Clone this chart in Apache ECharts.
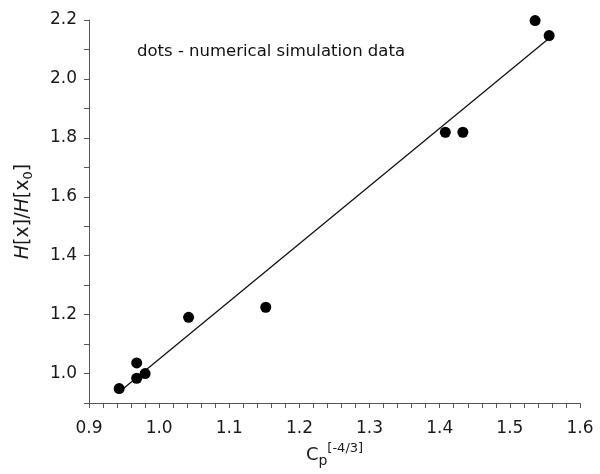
<!DOCTYPE html>
<html><head><meta charset="utf-8">
<script src="https://cdn.jsdelivr.net/npm/echarts@6/dist/echarts.min.js"></script>
<style>html,body{margin:0;padding:0;background:#fff}#c{width:600px;height:474px}</style>
</head><body><div id="c"></div>
<script>
const dotX = [0.943, 0.968, 0.968, 0.980, 1.042, 1.152, 1.408, 1.433, 1.536, 1.556];
const dotY = [0.949, 1.036, 0.984, 1.000, 1.191, 1.225, 1.819, 1.819, 2.198, 2.147];
const fitX = [0.943, 1.556];
const fitY = [0.937, 2.138];
const xTicks = [0.9, 1.0, 1.1, 1.2, 1.3, 1.4, 1.5, 1.6];
const yTicks = [1.0, 1.2, 1.4, 1.6, 1.8, 2.0, 2.2];
const note = 'dots - numerical simulation data';

const FONT = 'DejaVu Sans, sans-serif';
const chart = echarts.init(document.getElementById('c'));
chart.setOption({
  backgroundColor: '#fff',
  animation: false,
  textStyle: {fontFamily: FONT},
  grid: {left: 89, right: 20, top: 20, bottom: 71, containLabel: false},
  graphic: [{type: 'text', left: 137, top: 43, style: {text: note, font: '16.5px ' + FONT, fill: '#111'}}],
  xAxis: {
    type: 'value', min: xTicks[0], max: xTicks[xTicks.length - 1], interval: 0.1,
    axisLine: {lineStyle: {color: '#555', width: 1}},
    axisTick: {show: true, length: 5, lineStyle: {color: '#555'}},
    minorTick: {show: true, splitNumber: 5, length: 5, lineStyle: {color: '#555'}},
    splitLine: {show: false},
    axisLabel: {margin: 17, fontSize: 17, color: '#1a1a1a', fontFamily: FONT,
      formatter: v => v.toFixed(1)},
    name: '{n|C}{s|p}{u|[-4/3]}', nameLocation: 'middle', nameGap: 38,
    nameTextStyle: {rich: {
      n: {fontSize: 18, color: '#1a1a1a', lineHeight: 26, fontFamily: FONT},
      s: {fontSize: 14, color: '#1a1a1a', lineHeight: 14, verticalAlign: 'bottom', fontFamily: FONT},
      u: {fontSize: 13, color: '#1a1a1a', lineHeight: 13, verticalAlign: 'top', fontFamily: FONT}
    }}
  },
  yAxis: {
    type: 'value', min: 0.9, max: yTicks[yTicks.length - 1], interval: 0.1,
    axisLine: {show: true, lineStyle: {color: '#555', width: 1}},
    axisTick: {show: true, length: 5, lineStyle: {color: '#555'}},
    splitLine: {show: false},
    axisLabel: {margin: 12, fontSize: 17, color: '#1a1a1a', fontFamily: FONT,
      formatter: v => yTicks.some(t => Math.abs(t - v) < 1e-6) ? v.toFixed(1) : ''},
    name: '{i|H}{n|[x]/}{i|H}{n|[x}{s|0}{n|]}', nameLocation: 'middle', nameGap: 54, nameRotate: 90,
    nameTextStyle: {rich: {
      n: {fontSize: 19, color: '#1a1a1a', lineHeight: 24, fontFamily: FONT},
      i: {fontSize: 19, color: '#1a1a1a', lineHeight: 24, fontStyle: 'italic', fontFamily: FONT},
      s: {fontSize: 13, color: '#1a1a1a', lineHeight: 13, verticalAlign: 'bottom', fontFamily: FONT}
    }}
  },
  series: [
    {type: 'line', data: fitX.map((x, i) => [x, fitY[i]]), symbol: 'none',
      lineStyle: {color: '#111', width: 1.3}, z: 2},
    {type: 'scatter', data: dotX.map((x, i) => [x, dotY[i]]), symbolSize: 11,
      itemStyle: {color: '#000', opacity: 1}, z: 3}
  ]
});
</script></body></html>
